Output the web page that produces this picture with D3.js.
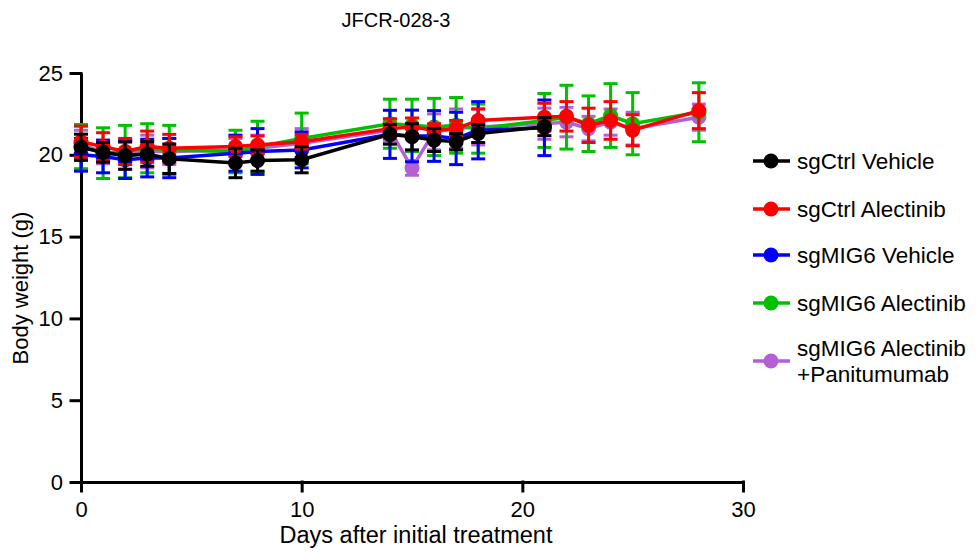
<!DOCTYPE html>
<html>
<head>
<meta charset="utf-8">
<script src="https://cdn.jsdelivr.net/npm/d3@7"></script>
<style>
  html, body { margin: 0; padding: 0; background: #fff; }
  svg { display: block; font-family: "Liberation Sans", Arial, sans-serif; }
</style>
</head>
<body>
<svg id="chart" width="977" height="552"></svg>
<script>
// Measurement days
const days = [0, 1, 2, 3, 4, 7, 8, 10, 14, 15, 16, 17, 18, 21, 22, 23, 24, 25, 28];

// Mean body weight (g) and SEM per group; null = not measured
const ctrlVehicleMean = [20.46, 20.15, 19.95, 20.05, 19.76, 19.5, 19.65, 19.7, 21.25, 21.1, 20.9, 20.8, 21.3, 21.72, null, null, null, null, null];
const ctrlVehicleSem  = [0.8, 0.6, 0.83, 0.75, 0.9, 0.9, 0.65, 0.8, 0.6, 0.8, 0.7, 0.5, 0.55, 0.55, null, null, null, null, null];

const ctrlAlectinibMean = [20.8, 20.5, 20.2, 20.5, 20.4, 20.5, 20.6, 20.8, 21.6, 21.7, 21.5, 21.6, 22.1, 22.3, 22.35, 21.8, 22.1, 21.5, 22.7];
const ctrlAlectinibSem  = [0.95, 0.85, 0.8, 0.95, 0.85, 0.6, 0.55, 0.45, 0.6, 0.55, 0.4, 0.5, 0.7, 0.85, 0.9, 1.05, 1.15, 0.95, 1.1];

const mig6VehicleMean = [20.0, 19.9, 19.7, 19.8, 19.8, 20.1, 20.2, 20.3, 21.25, 21.15, 21.15, 21.0, 21.5, 21.65, null, null, null, null, null];
const mig6VehicleSem  = [1.0, 1.0, 1.15, 1.15, 1.2, 1.1, 1.4, 1.1, 1.47, 1.58, 1.55, 1.6, 1.75, 1.7, null, null, null, null, null];

const mig6AlectinibMean = [20.5, 20.1, 20.2, 20.4, 20.3, 20.2, 20.5, 21.0, 21.9, 21.8, 21.7, 21.8, 21.6, 22.1, 22.3, 21.9, 22.4, 21.9, 22.6];
const mig6AlectinibSem  = [1.35, 1.55, 1.6, 1.5, 1.5, 1.3, 1.55, 1.55, 1.5, 1.6, 1.75, 1.7, 1.5, 1.65, 1.95, 1.7, 1.95, 1.9, 1.8];

const mig6ComboMean = [20.7, 20.1, 20.0, 20.2, 20.2, 20.3, 20.4, 20.7, 21.5, 19.2, 21.4, 21.6, 21.7, 21.9, 22.0, 21.6, 22.0, 21.6, 22.3];
const mig6ComboSem  = [0.8, 0.65, 0.9, 1.0, 0.8, 0.7, 0.8, 0.9, 0.7, 0.45, 1.1, 1.2, 1.1, 0.95, 0.9, 0.75, 0.8, 1.0, 0.8];

const groupNames  = ["sgCtrl Vehicle", "sgCtrl Alectinib", "sgMIG6 Vehicle", "sgMIG6 Alectinib", "sgMIG6 Alectinib\n+Panitumumab"];
const groupColors = ["#000000", "#ff0000", "#0000ff", "#00c000", "#b55fd4"];
const groupMeans  = [ctrlVehicleMean, ctrlAlectinibMean, mig6VehicleMean, mig6AlectinibMean, mig6ComboMean];
const groupSems   = [ctrlVehicleSem, ctrlAlectinibSem, mig6VehicleSem, mig6AlectinibSem, mig6ComboSem];

const xTicks = [0, 10, 20, 30];
const yTicks = [0, 5, 10, 15, 20, 25];

const svg = d3.select("#chart");

const x = d3.scaleLinear().domain([0, 30]).range([81, 743]);
const y = d3.scaleLinear().domain([0, 25]).range([482, 73]);

const groups = groupNames.map((name, i) => ({
  name,
  color: groupColors[i],
  points: days.map((d, j) => ({ day: d, mean: groupMeans[i][j], sem: groupSems[i][j] }))
              .filter(p => p.mean !== null)
}));

// Axes
const xAxis = svg.append("g")
  .attr("transform", `translate(0,${y(0)})`)
  .call(d3.axisBottom(x).tickValues(xTicks).tickSize(9).tickSizeOuter(0).tickPadding(6));
const yAxis = svg.append("g")
  .attr("transform", `translate(${x(0)},0)`)
  .call(d3.axisLeft(y).tickValues(yTicks).tickSize(10).tickSizeOuter(0).tickPadding(8));

[xAxis, yAxis].forEach(a => {
  a.selectAll("path, line").attr("stroke", "#000").attr("stroke-width", 3).attr("stroke-linecap", "square");
  a.selectAll("text").attr("fill", "#000").style("font-size", "22px");
});
xAxis.selectAll("text").attr("dy", "0.9em");
yAxis.select(".domain").attr("stroke-linecap", "butt");

// Series drawn back-to-front so that the first legend entry sits on top
const line = d3.line().x(p => x(p.day)).y(p => y(p.mean));
const capHalf = 7;

groups.slice().reverse().forEach(g => {
  const layer = svg.append("g");
  layer.append("path")
    .datum(g.points)
    .attr("d", line)
    .attr("fill", "none")
    .attr("stroke", g.color)
    .attr("stroke-width", 3.5);

  const eb = layer.selectAll(".eb").data(g.points).join("g");
  eb.append("line")
    .attr("x1", p => x(p.day)).attr("x2", p => x(p.day))
    .attr("y1", p => y(p.mean - p.sem)).attr("y2", p => y(p.mean + p.sem))
    .attr("stroke", g.color).attr("stroke-width", 3);
  [-1, 1].forEach(s => {
    eb.append("line")
      .attr("x1", p => x(p.day) - capHalf).attr("x2", p => x(p.day) + capHalf)
      .attr("y1", p => y(p.mean + s * p.sem)).attr("y2", p => y(p.mean + s * p.sem))
      .attr("stroke", g.color).attr("stroke-width", 3);
  });

  layer.selectAll("circle").data(g.points).join("circle")
    .attr("cx", p => x(p.day)).attr("cy", p => y(p.mean))
    .attr("r", 7.5).attr("fill", g.color);
});

// Title and axis titles
svg.append("text").attr("x", 396).attr("y", 27).attr("text-anchor", "middle")
  .style("font-size", "20px").text("JFCR-028-3");
svg.append("text").attr("x", 416).attr("y", 543).attr("text-anchor", "middle")
  .style("font-size", "23.5px").text("Days after initial treatment");
svg.append("text").attr("transform", "translate(28,288) rotate(-90)").attr("text-anchor", "middle")
  .style("font-size", "22px").text("Body weight (g)");

// Legend
const legendY = [161, 209, 255, 303, 361];
const legendFont = 22.5;
const legendLineGap = 25.5;
groups.forEach((g, i) => {
  const lg = svg.append("g").attr("transform", `translate(0,${legendY[i]})`);
  lg.append("line").attr("x1", 753).attr("x2", 790).attr("y1", 0).attr("y2", 0)
    .attr("stroke", g.color).attr("stroke-width", 3.5);
  lg.append("circle").attr("cx", 771).attr("cy", 0).attr("r", 7.5).attr("fill", g.color);
  const lines = g.name.split("\n");
  lines.forEach((s, k) => {
    lg.append("text").attr("x", 797)
      .attr("y", (k - (lines.length - 1) / 2) * legendLineGap)
      .attr("dy", "0.35em")
      .style("font-size", legendFont + "px").attr("fill", "#000")
      .text(s);
  });
});
</script>
</body>
</html>
